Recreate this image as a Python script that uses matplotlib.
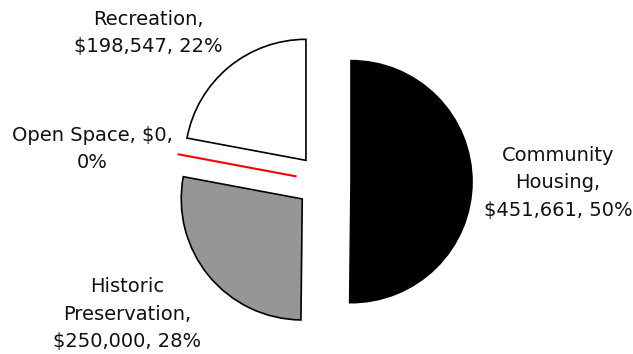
import matplotlib
matplotlib.use("Agg")
import matplotlib.pyplot as plt

categories = ["Community Housing", "Historic Preservation", "Open Space", "Recreation"]
amounts = [451661, 250000, 0, 198547]
percents = [50, 28, 0, 22]
label_lines = [
    ["Community", "Housing,"],
    ["Historic", "Preservation,"],
    ["Open Space, $0,"],
    ["Recreation,"],
]

fill_colors = ["black", "#969696", "white", "white"]
edge_colors = ["black", "black", "#ff0000", "black"]

W, H = 633, 354
fig = plt.figure(figsize=(W / 100, H / 100), dpi=100)
ax = fig.add_axes([0, 0, 1, 1])

wedges, _ = ax.pie(
    amounts,
    explode=[27.5] * len(amounts),
    startangle=90,
    counterclock=False,
    radius=121,
    center=(323.5, H - 181.5),
    colors=fill_colors,
    wedgeprops=dict(linewidth=1.2),
    frame=True,
)
for w, ec in zip(wedges, edge_colors):
    w.set_edgecolor(ec)
wedges[2].set_linewidth(1.5)
ax.set_xlim(0, W)
ax.set_ylim(0, H)
ax.axis("off")


def label_text(i):
    lines = list(label_lines[i])
    tail = f"{percents[i]}%"
    if amounts[i] == 0:
        lines.append(tail)
    else:
        lines.append(f"${amounts[i]:,}, {tail}")
    return "\n".join(lines)


# label block centres (x, y from top)
label_pos = [(558, 183), (127, 314), (92, 149), (148, 33)]
for i, (lx, ly) in enumerate(label_pos):
    ax.text(lx, H - ly, label_text(i), ha="center", va="center",
            fontsize=14, color="#111111", family="DejaVu Sans",
            linespacing=1.55)

fig.savefig("out.png", dpi=100, facecolor="white")
